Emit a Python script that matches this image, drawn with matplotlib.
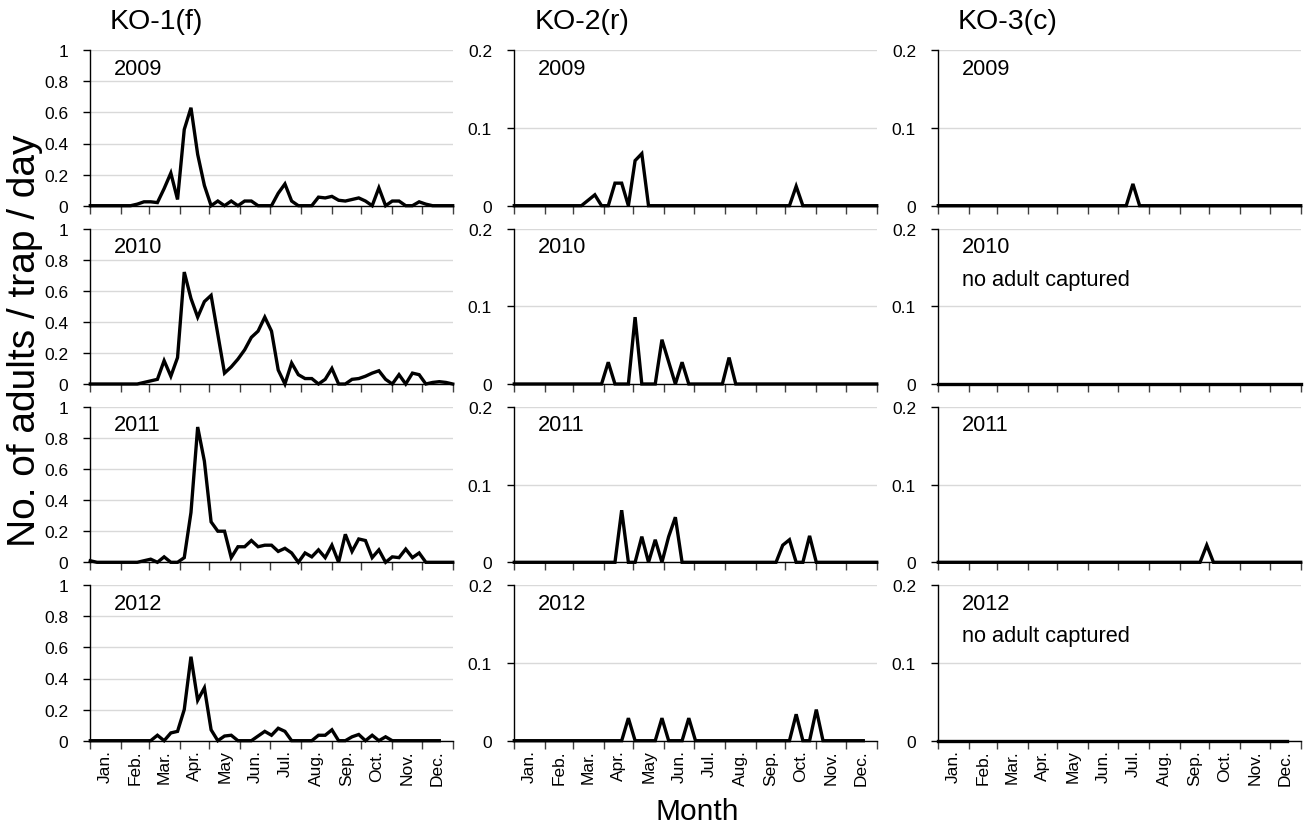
import numpy as np
import matplotlib
matplotlib.use("Agg")
import matplotlib.pyplot as plt

plt.rcParams['font.family'] = ['Liberation Sans', 'DejaVu Sans']

# ---------------- data ----------------
sites = ["KO-1(f)", "KO-2(r)", "KO-3(c)"]
years = ["2009", "2010", "2011", "2012"]
month_labels = ["Jan.", "Feb.", "Mar.", "Apr.", "May", "Jun.", "Jul.", "Aug.", "Sep.", "Oct.", "Nov.", "Dec."]
month_days = [31, 28, 31, 30, 31, 30, 31, 31, 30, 31, 30, 31]

ko1_2009 = [0, 0, 0, 0, 0, 0, 0, 0.01, 0.025, 0.025, 0.02, 0.11, 0.21, 0.04, 0.49, 0.63, 0.33, 0.13, 0,
            0.03, 0, 0.03, 0, 0.03, 0.03, 0, 0, 0, 0.08, 0.14, 0.03, 0, 0, 0, 0.055, 0.05, 0.06, 0.035, 0.03,
            0.04, 0.05, 0.03, 0, 0.115, 0, 0.03, 0.03, 0, 0, 0.025, 0.01, 0, 0, 0, 0]
ko1_2010 = [0, 0, 0, 0, 0, 0, 0, 0, 0.01, 0.02, 0.03, 0.15, 0.05, 0.17, 0.72, 0.55, 0.43, 0.53, 0.57, 0.32,
            0.07, 0.11, 0.16, 0.22, 0.3, 0.34, 0.43, 0.34, 0.09, 0, 0.135, 0.06, 0.035, 0.035, 0, 0.03, 0.1,
            0, 0, 0.03, 0.035, 0.05, 0.07, 0.085, 0.03, 0, 0.06, 0, 0.07, 0.06, 0, 0.01, 0.015, 0.01, 0]
ko1_2011 = [0.01, 0, 0, 0, 0, 0, 0, 0, 0.01, 0.02, 0, 0.035, 0, 0, 0.03, 0.32, 0.87, 0.65, 0.26, 0.2, 0.2,
            0.03, 0.1, 0.1, 0.14, 0.1, 0.11, 0.11, 0.07, 0.09, 0.06, 0, 0.06, 0.035, 0.08, 0.03, 0.11, 0,
            0.18, 0.07, 0.15, 0.14, 0.03, 0.08, 0, 0.035, 0.03, 0.085, 0.03, 0.06, 0, 0, 0, 0, 0]
ko1_2012 = [0, 0, 0, 0, 0, 0, 0, 0, 0, 0, 0.035, 0, 0.05, 0.06, 0.2, 0.54, 0.26, 0.34, 0.07, 0, 0.03,
            0.035, 0, 0, 0, 0.03, 0.06, 0.035, 0.08, 0.06, 0, 0, 0, 0, 0.035, 0.035, 0.07, 0, 0, 0.025,
            0.04, 0, 0.035, 0, 0.025, 0, 0, 0, 0, 0, 0, 0, 0]

ko2_2009 = [0, 0, 0, 0, 0, 0, 0, 0, 0, 0, 0, 0.007, 0.014, 0, 0, 0.029, 0.029, 0, 0.058, 0.067, 0,
            0, 0, 0, 0, 0, 0, 0, 0, 0, 0, 0, 0, 0, 0, 0, 0, 0, 0, 0, 0, 0, 0.025, 0,
            0, 0, 0, 0, 0, 0, 0, 0, 0, 0, 0]
ko2_2010 = [0, 0, 0, 0, 0, 0, 0, 0, 0, 0, 0, 0, 0, 0, 0.028, 0, 0, 0, 0.086, 0, 0, 0, 0.057, 0.0285,
            0, 0.028, 0, 0, 0, 0, 0, 0, 0.034, 0, 0, 0, 0, 0, 0, 0, 0, 0, 0, 0, 0, 0, 0, 0, 0, 0,
            0, 0, 0, 0, 0]
ko2_2011 = [0, 0, 0, 0, 0, 0, 0, 0, 0, 0, 0, 0, 0, 0, 0, 0, 0.067, 0, 0, 0.033, 0, 0.029, 0, 0.033,
            0.058, 0, 0, 0, 0, 0, 0, 0, 0, 0, 0, 0, 0, 0, 0, 0, 0.022, 0.029, 0, 0, 0.034, 0,
            0, 0, 0, 0, 0, 0, 0, 0, 0]
ko2_2012 = [0, 0, 0, 0, 0, 0, 0, 0, 0, 0, 0, 0, 0, 0, 0, 0, 0, 0.029, 0, 0, 0, 0, 0.029, 0, 0, 0,
            0.029, 0, 0, 0, 0, 0, 0, 0, 0, 0, 0, 0, 0, 0, 0, 0, 0.034, 0, 0, 0.04, 0, 0, 0, 0,
            0, 0, 0]

ko3_2009 = [0, 0, 0, 0, 0, 0, 0, 0, 0, 0, 0, 0, 0, 0, 0, 0, 0, 0, 0, 0, 0, 0, 0, 0, 0, 0, 0, 0, 0,
            0.028, 0, 0, 0, 0, 0, 0, 0, 0, 0, 0, 0, 0, 0, 0, 0, 0, 0, 0, 0, 0, 0, 0, 0, 0, 0]
ko3_2010 = [0, 0, 0, 0, 0, 0, 0, 0, 0, 0, 0, 0, 0, 0, 0, 0, 0, 0, 0, 0, 0, 0, 0, 0, 0, 0, 0, 0, 0,
            0, 0, 0, 0, 0, 0, 0, 0, 0, 0, 0, 0, 0, 0, 0, 0, 0, 0, 0, 0, 0, 0, 0, 0, 0, 0]
ko3_2011 = [0, 0, 0, 0, 0, 0, 0, 0, 0, 0, 0, 0, 0, 0, 0, 0, 0, 0, 0, 0, 0, 0, 0, 0, 0, 0, 0, 0, 0,
            0, 0, 0, 0, 0, 0, 0, 0, 0, 0, 0, 0.022, 0, 0, 0, 0, 0, 0, 0, 0, 0, 0, 0, 0, 0, 0]
ko3_2012 = [0, 0, 0, 0, 0, 0, 0, 0, 0, 0, 0, 0, 0, 0, 0, 0, 0, 0, 0, 0, 0, 0, 0, 0, 0, 0, 0, 0, 0,
            0, 0, 0, 0, 0, 0, 0, 0, 0, 0, 0, 0, 0, 0, 0, 0, 0, 0, 0, 0, 0, 0, 0, 0]

series = [
    [ko1_2009, ko1_2010, ko1_2011, ko1_2012],
    [ko2_2009, ko2_2010, ko2_2011, ko2_2012],
    [ko3_2009, ko3_2010, ko3_2011, ko3_2012],
]
no_capture = {(2, 1), (2, 3)}
ymax = [1.0, 0.2, 0.2]
yticks = [[0, 0.2, 0.4, 0.6, 0.8, 1.0], [0, 0.1, 0.2], [0, 0.1, 0.2]]
yticklabels = [["0", "0.2", "0.4", "0.6", "0.8", "1"], ["0", "0.1", "0.2"], ["0", "0.1", "0.2"]]

sample_step = 365 / 54  # days between trap collections

# ---------------- figure ----------------
W, H = 1304, 828
fig = plt.figure(figsize=(W / 100, H / 100), dpi=100)

col_left = [90.3, 514.3, 938.3]
ax_w = 362.4
row_bottom = [206.7, 385.0, 563.3, 741.7]
ax_h = 155.5

bounds = np.concatenate([[0], np.cumsum(month_days)])
centers = (bounds[:-1] + bounds[1:]) / 2

for c in range(3):
    for r in range(4):
        ax = fig.add_axes([col_left[c] / W, 1 - row_bottom[r] / H, ax_w / W, ax_h / H])
        vals = series[c][r]
        x = np.arange(len(vals)) * sample_step
        ax.plot(x, vals, color='black', lw=2.4, solid_joinstyle='miter', clip_on=False, zorder=3)
        ax.set_xlim(0, 365)
        ax.set_ylim(0, ymax[c])
        ax.set_yticks(yticks[c])
        ax.set_yticklabels(yticklabels[c])
        ax.yaxis.grid(True, color='#d9d9d9', lw=1.0)
        ax.set_axisbelow(True)
        for s in ['top', 'right']:
            ax.spines[s].set_visible(False)
        ax.spines['left'].set_linewidth(1.0)
        ax.spines['bottom'].set_linewidth(1.0)
        ax.tick_params(axis='y', direction='out', length=5, width=1, labelsize=12.5, pad=11)
        ax.set_xticks(bounds)
        ax.set_xticklabels([])
        ax.set_xticks(centers, minor=True)
        ax.tick_params(axis='x', which='major', direction='out', length=6, width=1, color='#404040')
        ax.tick_params(axis='x', which='minor', length=0)
        if r == 3:
            ax.set_xticklabels(month_labels, minor=True, rotation=90, fontsize=12.5)
            ax.tick_params(axis='x', which='minor', pad=6)
        else:
            ax.set_xticklabels([], minor=True)
        ax.text(0.066, 0.885, years[r], transform=ax.transAxes, fontsize=15.7, ha='left', va='center')
        if (c, r) in no_capture:
            ax.text(0.066, 0.675, "no adult captured", transform=ax.transAxes, fontsize=15.7,
                    ha='left', va='center')

title_x = [110, 535, 958]
for c in range(3):
    fig.text(title_x[c] / W, 1 - 22 / H, sites[c], fontsize=20.5, ha='left', va='center')

fig.text(25 / W, 1 - 341 / H, "No. of adults / trap / day", rotation=90, fontsize=28,
         ha='center', va='center')
fig.text(697 / W, 1 - 812 / H, "Month", fontsize=21.5, ha='center', va='center')

fig.savefig("out.png", dpi=100)
